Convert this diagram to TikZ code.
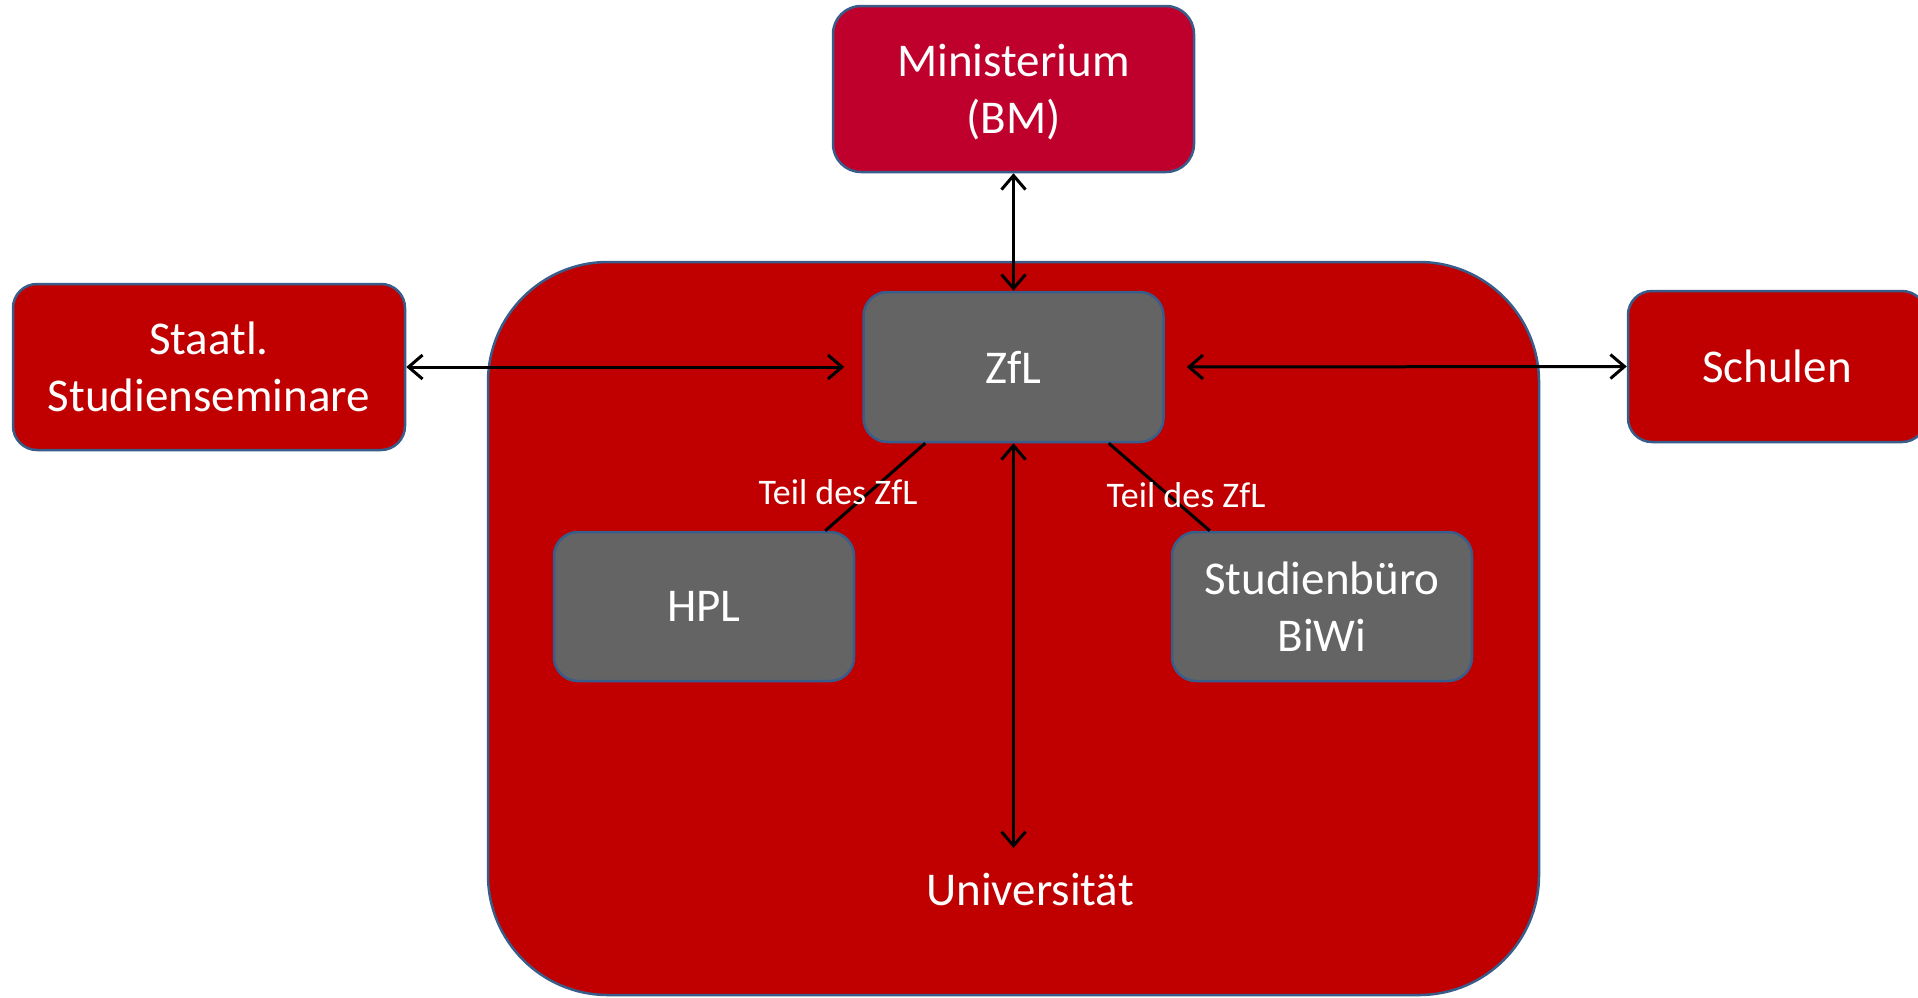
\documentclass[tikz,border=0pt]{standalone}
\usepackage{fontspec}
\setmainfont{Carlito}
\usetikzlibrary{arrows.meta,calc}
\definecolor{uired}{RGB}{192,0,0}
\definecolor{minred}{RGB}{192,0,44}
\definecolor{boxgray}{RGB}{100,100,100}
\definecolor{edgeblue}{RGB}{56,93,138}
\begin{document}
\begin{tikzpicture}[x=1pt,y=-1pt,
  box/.style={draw=edgeblue, line width=2.5pt, rounded corners=24pt, text=white,
    align=center, font=\fontsize{47}{57}\selectfont, inner sep=0pt},
  redbox/.style={box, fill=uired},
  graybox/.style={box, fill=boxgray},
  conn/.style={line width=3pt, draw=black},
  arr/.style={conn, {Straight Barb[length=14pt,width=24pt,line width=3pt]}-{Straight Barb[length=14pt,width=24pt,line width=3pt]}},
  lbl/.style={text=white, font=\fontsize{36}{43}\selectfont, inner sep=0pt}
]
\useasboundingbox (0,0) rectangle (1918,997);
\begin{scope}
\clip (0,0) rectangle (1918,997);
% big university container
\node[redbox, rounded corners=120pt, minimum width=1051pt, minimum height=733pt] (uni) at (1013.5,628.5) {};
\node[text=white, font=\fontsize{47}{57}\selectfont, inner sep=0pt] (unilabel) at (1030,889) {Universität};
% outer boxes
\node[box, fill=minred, rounded corners=28pt, minimum width=361pt, minimum height=166pt] (min) at (1013.5,89) {\raisebox{-5pt}[\height][\depth]{\begin{tabular}{@{}c@{}}Ministerium\\(BM)\end{tabular}}};
\node[redbox, minimum width=392pt, minimum height=166pt] (staatl) at (209,367) {Staatl.\\Studienseminare};
\node[redbox, minimum width=298pt, minimum height=151pt] (schulen) at (1777,366.5) {Schulen};
% inner boxes
\node[graybox, minimum width=300pt, minimum height=150pt] (zfl) at (1013.5,367) {ZfL};
\node[graybox, minimum width=300pt, minimum height=149pt] (hpl) at (704,606.5) {HPL};
\node[graybox, minimum width=300pt, minimum height=149pt] (stb) at (1322,606.5) {Studienbüro\\BiWi};
\coordinate (uend) at (1013.5,848);
% connectors
\draw[arr] (min.south) -- (zfl.north);
\draw[arr, shorten >=18pt] (staatl.east) -- (zfl.west);
\draw[arr, shorten <=22pt] (zfl.east) -- (schulen.west);
\draw[arr] (zfl.south) -- (uend);
\draw[conn] ($(zfl.south west)+(63,0)$) -- ($(hpl.north east)+(-30,0)$);
\draw[conn] ($(zfl.south east)+(-56,0)$) -- ($(stb.north west)+(39,0)$);
% labels
\node[lbl] (lblL) at (838,492) {Teil des ZfL};
\node[lbl] (lblR) at (1186,495) {Teil des ZfL};
\end{scope}
\end{tikzpicture}
\end{document}
